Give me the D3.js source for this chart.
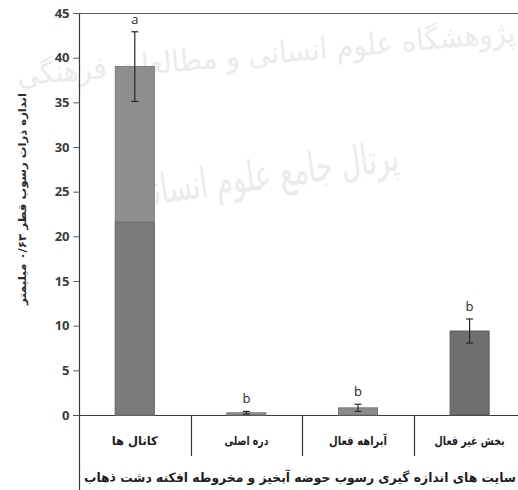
<!DOCTYPE html>
<html>
<head>
<meta charset="utf-8">
<script src="https://cdn.jsdelivr.net/npm/d3@7"></script>
<style>
  html, body { margin: 0; padding: 0; background: #fff; overflow: hidden; }
  svg { display: block; }
</style>
</head>
<body>
<svg id="chart" width="518" height="490"></svg>
<script>
// Sediment particle size (< 0.63 mm) by measurement site
const categories = ["کانال ها", "دره اصلی", "آبراهه فعال", "بخش غیر فعال"];
const means = [39.0, 0.25, 0.8, 9.4];
const errors = [3.9, 0.15, 0.4, 1.35];
const groupLetters = ["a", "b", "b", "b"];
const lowerTone = [21.6, 0, 0, 0];
const yTicks = [0, 5, 10, 15, 20, 25, 30, 35, 40, 45];
const barFills = ["#8e8e8e", "#8f8f8f", "#8b8b8b", "#6f6f6f"];
const barEdges = ["#7a7a7a", "#7a7a7a", "#777777", "#5a5a5a"];
const labelWidths = [46, 44, 58, 70];

const yTitle = "اندازه ذرات رسوب قطر ۰/۶۳ میلیمتر";
const xTitle = "سایت های اندازه گیری رسوب حوضه آبخیز و مخروطه افکنه دشت ذهاب";
const watermarkTop = "پژوهشگاه علوم انسانی و مطالعات فرهنگی";
const watermarkMid = "پرتال جامع علوم انسانی";

const svg = d3.select("#chart");
const W = 518, H = 490;
const plotLeft = 79, plotTop = 13, plotBottom = 415;
const bandW = 111.6;

const x = d3.scaleBand()
  .domain(categories)
  .range([plotLeft, plotLeft + bandW * categories.length])
  .paddingInner(0).paddingOuter(0);
const y = d3.scaleLinear().domain([0, 45]).range([plotBottom, plotTop]);
const barW = 39;

const arabicFont = "'DejaVu Sans', 'Noto Sans', sans-serif";

// faint background watermark
const wm = svg.append("g").attr("fill", "#ebebeb").style("font-family", arabicFont);
wm.append("text")
  .attr("transform", "translate(516,42) rotate(-5)")
  .attr("text-anchor", "start")
  .attr("direction", "rtl")
  .attr("font-size", 30)
  .attr("textLength", 500)
  .attr("lengthAdjust", "spacingAndGlyphs")
  .text(watermarkTop);
wm.append("text")
  .attr("transform", "translate(400,170) rotate(-8)")
  .attr("text-anchor", "start")
  .attr("direction", "rtl")
  .attr("font-size", 42)
  .attr("textLength", 270)
  .attr("lengthAdjust", "spacingAndGlyphs")
  .text(watermarkMid);

// frame: top border and axes
svg.append("line").attr("x1", plotLeft).attr("x2", W).attr("y1", plotTop + 0.5).attr("y2", plotTop + 0.5)
  .attr("stroke", "#5a5a5a").attr("stroke-width", 1);
svg.append("line").attr("x1", plotLeft + 0.5).attr("x2", plotLeft + 0.5).attr("y1", plotTop).attr("y2", H)
  .attr("stroke", "#3a3a3a").attr("stroke-width", 1.2);
svg.append("line").attr("x1", 73).attr("x2", W).attr("y1", plotBottom + 0.5).attr("y2", plotBottom + 0.5)
  .attr("stroke", "#3a3a3a").attr("stroke-width", 1.2);

// y axis ticks and labels
const yAxis = d3.axisLeft(y).tickValues(yTicks).tickSize(6).tickPadding(4).tickFormat(d3.format("d"));
const yg = svg.append("g").attr("transform", `translate(${plotLeft + 0.5},0)`).call(yAxis);
yg.select(".domain").remove();
yg.selectAll(".tick line").attr("stroke", "#555");
yg.selectAll(".tick text")
  .attr("fill", "#3c3c3c")
  .style("font-family", "'Open Sans', 'Liberation Sans', sans-serif")
  .style("font-weight", "bold")
  .style("font-size", "13px");

// category separators
const seps = categories.slice(1);
svg.append("g").selectAll("line").data(seps).join("line")
  .attr("x1", d => Math.round(x(d)) + 0.5)
  .attr("x2", d => Math.round(x(d)) + 0.5)
  .attr("y1", plotBottom).attr("y2", 456)
  .attr("stroke", "#333").attr("stroke-width", 1.2);

// bars
const bars = svg.append("g");
bars.selectAll("rect.bar").data(categories).join("rect")
  .attr("class", "bar")
  .attr("x", (d, i) => x(d) + x.bandwidth() / 2 - barW / 2)
  .attr("width", barW)
  .attr("y", (d, i) => y(means[i]))
  .attr("height", (d, i) => y(0) - y(means[i]))
  .attr("fill", (d, i) => barFills[i])
  .attr("stroke", (d, i) => barEdges[i])
  .attr("stroke-width", 1);
bars.selectAll("rect.tone").data(categories.filter((d, i) => lowerTone[i] > 0)).join("rect")
  .attr("class", "tone")
  .attr("x", d => x(d) + x.bandwidth() / 2 - barW / 2)
  .attr("width", barW)
  .attr("y", d => y(lowerTone[categories.indexOf(d)]))
  .attr("height", d => y(0) - y(lowerTone[categories.indexOf(d)]))
  .attr("fill", "#7b7b7b")
  .attr("stroke", "#707070");

// error bars
const eb = svg.append("g").attr("stroke", "#2a2a2a").attr("stroke-width", 1.2);
categories.forEach((c, i) => {
  const cx = x(c) + x.bandwidth() / 2;
  const hi = y(means[i] + errors[i]), lo = y(means[i] - errors[i]);
  eb.append("line").attr("x1", cx).attr("x2", cx).attr("y1", hi).attr("y2", lo);
  eb.append("line").attr("x1", cx - 3.5).attr("x2", cx + 3.5).attr("y1", hi).attr("y2", hi);
  eb.append("line").attr("x1", cx - 3.5).attr("x2", cx + 3.5).attr("y1", lo).attr("y2", lo);
});

// significance letters
svg.append("g").selectAll("text").data(categories).join("text")
  .attr("x", d => x(d) + x.bandwidth() / 2)
  .attr("y", (d, i) => y(means[i] + errors[i]) - 8)
  .attr("text-anchor", "middle")
  .attr("fill", "#2a2a2a")
  .style("font-family", "'Open Sans', 'Liberation Sans', sans-serif")
  .style("font-size", "13px")
  .text((d, i) => groupLetters[i]);

// category labels
svg.append("g").selectAll("text").data(categories).join("text")
  .attr("x", d => x(d) + x.bandwidth() / 2)
  .attr("y", 445)
  .attr("text-anchor", "middle")
  .attr("direction", "rtl")
  .attr("textLength", (d, i) => labelWidths[i])
  .attr("lengthAdjust", "spacingAndGlyphs")
  .attr("fill", "#1e1e1e")
  .style("font-family", arabicFont)
  .style("font-weight", "bold")
  .style("font-size", "12px")
  .text(d => d);

// axis titles
svg.append("text")
  .attr("x", 516).attr("y", 482)
  .attr("text-anchor", "start")
  .attr("direction", "rtl")
  .attr("textLength", 432)
  .attr("lengthAdjust", "spacingAndGlyphs")
  .attr("fill", "#1e1e1e")
  .style("font-family", arabicFont)
  .style("font-weight", "bold")
  .style("font-size", "13px")
  .text(xTitle);

svg.append("text")
  .attr("transform", "translate(26,199) rotate(-90)")
  .attr("text-anchor", "middle")
  .attr("direction", "rtl")
  .attr("textLength", 212)
  .attr("lengthAdjust", "spacingAndGlyphs")
  .attr("fill", "#2a2a2a")
  .style("font-family", arabicFont)
  .style("font-weight", "bold")
  .style("font-size", "11px")
  .text(yTitle);
</script>
</body>
</html>
